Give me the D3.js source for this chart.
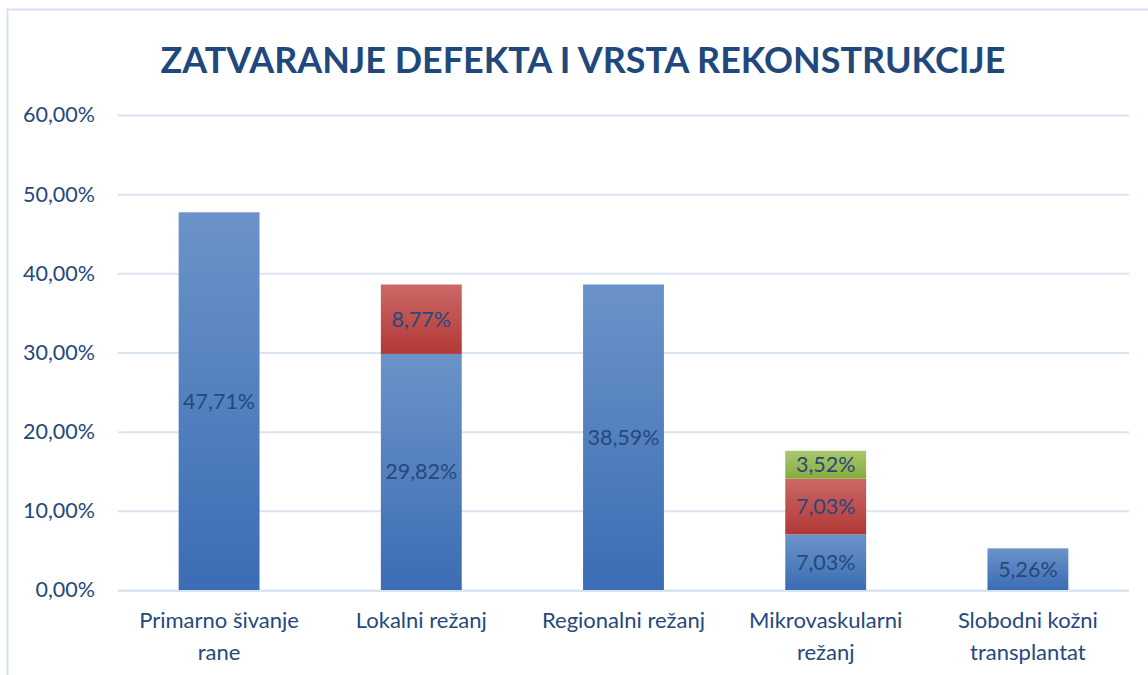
<!DOCTYPE html>
<html>
<head>
<meta charset="utf-8">
<script src="https://cdn.jsdelivr.net/npm/d3@7"></script>
<style>
  html, body { margin: 0; padding: 0; background: #fff; }
  svg { display: block; }
  text { font-family: Lato, "Open Sans", sans-serif; }
</style>
</head>
<body>
<svg id="chart" width="1148" height="675"></svg>
<script>
const title = "ZATVARANJE DEFEKTA I VRSTA REKONSTRUKCIJE";
const categories = [
  ["Primarno šivanje", "rane"],
  ["Lokalni režanj"],
  ["Regionalni režanj"],
  ["Mikrovaskularni", "režanj"],
  ["Slobodni kožni", "transplantat"]
];
const seriesNames = ["Serija 1", "Serija 2", "Serija 3"];
const series1 = [47.71, 29.82, 38.59, 7.03, 5.26];
const series2 = [0, 8.77, 0, 7.03, 0];
const series3 = [0, 0, 0, 3.52, 0];
const yTicks = [0, 10, 20, 30, 40, 50, 60];

const textColor = "#25497c";
const svg = d3.select("#chart");

// outer chart border
svg.append("rect").attr("x", 7.5).attr("y", 9.5).attr("width", 1300).attr("height", 800)
  .attr("fill", "#fff").attr("stroke", "#d6e2f1").attr("stroke-width", 2);

// gradients
const defs = svg.append("defs");
const grads = [
  ["g0", "#6b93c9", "#3b6db4"],
  ["g1", "#cb6866", "#b13836"],
  ["g2", "#aac86e", "#88ab3e"]
];
grads.forEach(([id, c1, c2]) => {
  const g = defs.append("linearGradient").attr("id", id)
    .attr("x1", 0).attr("y1", 0).attr("x2", 0).attr("y2", 1);
  g.append("stop").attr("offset", "0%").attr("stop-color", c1);
  g.append("stop").attr("offset", "100%").attr("stop-color", c2);
});

const plotL = 118, plotR = 1129, plotT = 115, plotB = 590;
const x = d3.scaleBand().domain(d3.range(categories.length))
  .range([plotL, plotR]).paddingInner(0.6).paddingOuter(0.3);
const y = d3.scaleLinear().domain([0, 60]).range([plotB, plotT]);

// gridlines
const yAxis = d3.axisLeft(y).tickValues(yTicks)
  .tickSize(-(plotR - plotL)).tickPadding(23)
  .tickFormat(d => d3.format(".2f")(d).replace(".", ",") + "%");
const ga = svg.append("g").attr("transform", `translate(${plotL},0)`).call(yAxis);
ga.select(".domain").remove();
ga.selectAll(".tick line").attr("stroke", "#d9e4f3").attr("stroke-width", 2);
ga.selectAll(".tick text").attr("fill", textColor).attr("font-size", 21.5).attr("font-family", "Lato, sans-serif");

// stacked data
const rows = categories.map((c, i) => ({ i, s0: series1[i], s1: series2[i], s2: series3[i] }));
const stack = d3.stack().keys(["s0", "s1", "s2"])(rows);

const fmt = v => d3.format(".2f")(v).replace(".", ",") + "%";
stack.forEach((layer, k) => {
  const g = svg.append("g");
  layer.forEach((d, i) => {
    const v = d[1] - d[0];
    if (v <= 0) return;
    g.append("rect")
      .attr("x", x(i)).attr("width", x.bandwidth())
      .attr("y", y(d[1])).attr("height", y(d[0]) - y(d[1]))
      .attr("fill", `url(#g${k})`);
    g.append("text")
      .attr("x", x(i) + x.bandwidth() / 2)
      .attr("y", (y(d[0]) + y(d[1])) / 2)
      .attr("dy", "0.35em")
      .attr("text-anchor", "middle")
      .attr("font-size", 21.5)
      .attr("fill", textColor)
      .text(fmt(v));
  });
});

// x axis baseline
svg.append("line").attr("x1", plotL).attr("x2", plotR).attr("y1", plotB + 1).attr("y2", plotB + 1)
  .attr("stroke", "#d9e4f3").attr("stroke-width", 2);

// category labels
categories.forEach((lines, i) => {
  const t = svg.append("text").attr("text-anchor", "middle").attr("fill", textColor).attr("font-size", 22);
  lines.forEach((ln, j) => {
    t.append("tspan").attr("x", x(i) + x.bandwidth() / 2).attr("y", 628 + j * 32).text(ln);
  });
});

// title
const tt = svg.append("text").attr("x", 583).attr("y", 73).attr("text-anchor", "middle")
  .attr("font-weight", "bold").attr("fill", "#1f497d").attr("font-size", 40).text(title);
const w = tt.node().getComputedTextLength();
tt.attr("font-size", 40 * 845 / w);
</script>
</body>
</html>
